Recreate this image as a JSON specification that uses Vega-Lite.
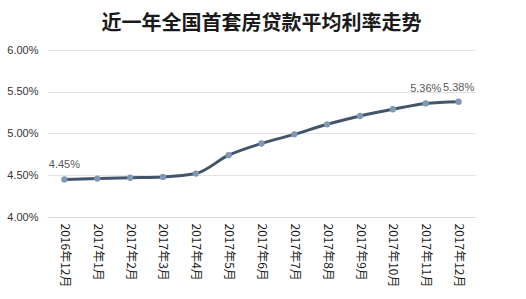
{
  "$schema": "https://vega.github.io/schema/vega-lite/v6.json",
  "width": 427,
  "height": 167,
  "autosize": "none",
  "padding": {"left": 48, "top": 50, "right": 51, "bottom": 82},
  "background": "white",
  "title": {
    "text": "近一年全国首套房贷款平均利率走势",
    "font": "Noto Sans CJK SC",
    "fontSize": 20,
    "fontWeight": "bold",
    "color": "#1a1a1a",
    "anchor": "middle",
    "offset": 10
  },
  "data": {
    "values": [
      {"month": "2016年12月", "rate": 0.0445, "label": "4.45%"},
      {"month": "2017年1月", "rate": 0.0446, "label": ""},
      {"month": "2017年2月", "rate": 0.0447, "label": ""},
      {"month": "2017年3月", "rate": 0.0448, "label": ""},
      {"month": "2017年4月", "rate": 0.0452, "label": ""},
      {"month": "2017年5月", "rate": 0.0474, "label": ""},
      {"month": "2017年6月", "rate": 0.0488, "label": ""},
      {"month": "2017年7月", "rate": 0.0499, "label": ""},
      {"month": "2017年8月", "rate": 0.0511, "label": ""},
      {"month": "2017年9月", "rate": 0.0521, "label": ""},
      {"month": "2017年10月", "rate": 0.0529, "label": ""},
      {"month": "2017年11月", "rate": 0.0536, "label": "5.36%"},
      {"month": "2017年12月", "rate": 0.0538, "label": "5.38%"}
    ]
  },
  "config": {"view": {"stroke": null}},
  "encoding": {
    "x": {
      "field": "month",
      "type": "nominal",
      "sort": null,
      "title": null,
      "scale": {"paddingInner": 0, "paddingOuter": 0.5},
      "axis": {
        "labelAngle": 90,
        "labelAlign": "left",
        "labelBaseline": "middle",
        "labelFont": "Noto Sans CJK SC",
        "labelFontSize": 12,
        "labelColor": "#1a1a1a",
        "labelPadding": 6,
        "ticks": false,
        "domainColor": "#d9d9d9",
        "grid": false
      }
    },
    "y": {
      "field": "rate",
      "type": "quantitative",
      "title": null,
      "scale": {"domain": [0.04, 0.06], "nice": false, "zero": false},
      "axis": {
        "values": [0.04, 0.045, 0.05, 0.055, 0.06],
        "format": ".2%",
        "labelFont": "Liberation Sans",
        "labelFontSize": 11,
        "labelColor": "#333333",
        "labelPadding": 10,
        "ticks": false,
        "domain": false,
        "gridColor": "#e3e3e3",
        "grid": true
      }
    }
  },
  "layer": [
    {
      "mark": {"type": "line", "color": "#44546a", "strokeWidth": 3, "interpolate": "monotone"}
    },
    {
      "mark": {"type": "point", "filled": true, "color": "#7f98b4", "size": 40, "opacity": 1}
    },
    {
      "mark": {"type": "text", "dy": -14, "font": "Liberation Sans", "fontSize": 11, "color": "#595959"},
      "encoding": {"text": {"field": "label"}}
    }
  ]
}
